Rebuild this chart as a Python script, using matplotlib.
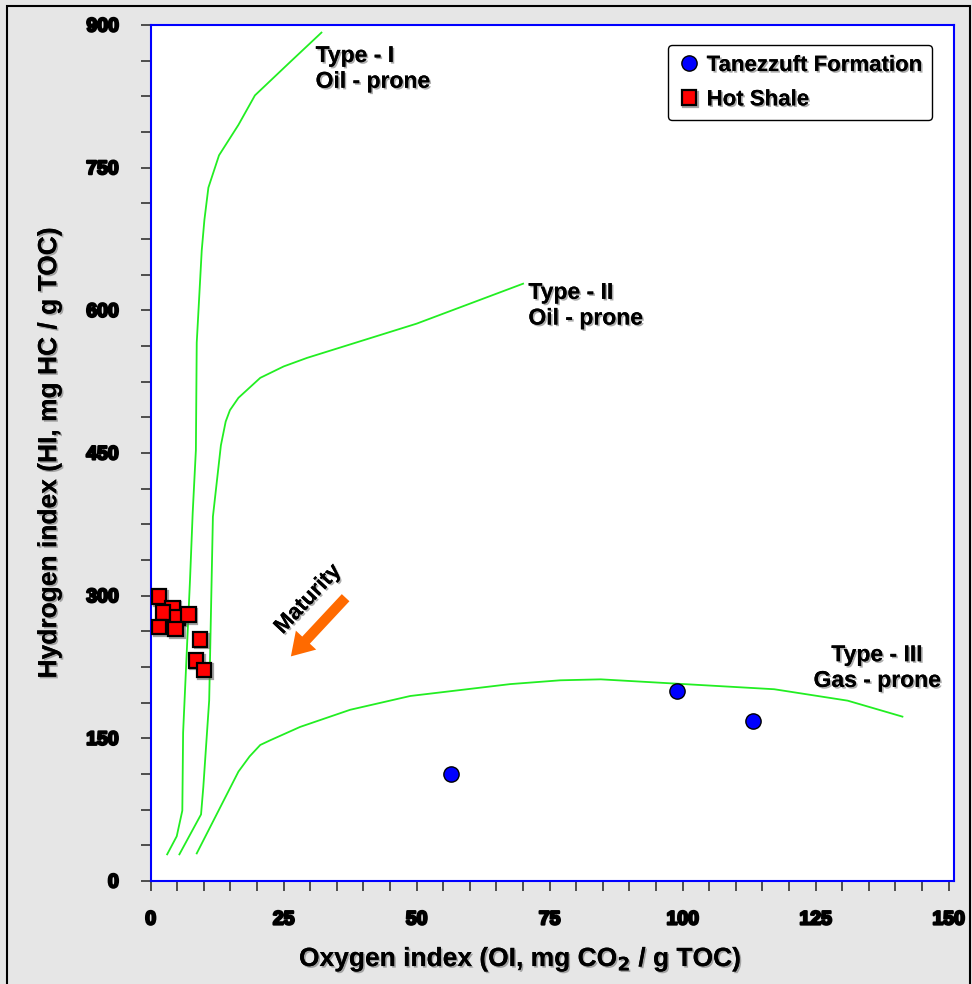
import numpy as np
import matplotlib
matplotlib.use("Agg")
import matplotlib.pyplot as plt
import matplotlib.patheffects as pe
from matplotlib.patches import Rectangle

plt.rcParams['font.family'] = ['Liberation Sans', 'DejaVu Sans']

# Kerogen type boundary curves (OI, HI)
type1_oi = [3.1, 4.9, 5.95, 6.1, 7.4, 7.9, 8.5, 8.66, 9.6, 10.1, 10.85, 12.85, 16.5, 19.6, 26.2, 32.1]
type1_hi = [28, 47, 74, 156, 317, 387, 453, 566, 663, 695, 729, 763, 795, 826, 861, 892]

type2_oi = [5.4, 9.47, 9.9, 11.0, 11.7, 13.2, 14.1, 14.9, 16.5, 20.6, 25.0, 29.4, 50.0, 70.0]
type2_hi = [28, 70, 99, 190, 383, 458, 483, 495, 508, 529, 541, 550, 586, 628]

type3_oi = [8.66, 16.5, 18.6, 20.6, 22.5, 28.1, 37.5, 48.8, 67.6, 77.0, 84.6, 117.2, 131.0, 141.3]
type3_hi = [29, 115, 131, 143, 148, 162, 180, 194.5, 207, 211, 212, 201.6, 189.6, 172.8]

# Samples
tanezzuft_oi = [56.5, 98.9, 113.2]
tanezzuft_hi = [112.5, 200, 168]

hotshale_oi = [1.6, 4.1, 2.3, 5.0, 7.1, 1.6, 4.7, 9.3, 8.5, 10.0]
hotshale_hi = [299, 287, 282, 277, 280, 267, 265, 254, 232, 222]

shadow = [pe.withSimplePatchShadow(offset=(1.2, -1.2), shadow_rgbFace='#777777', alpha=0.6), pe.Normal()]

fig = plt.figure(figsize=(9.72, 9.84), dpi=100, facecolor='#e6e6e6')
fig.patches.append(Rectangle((0.007, -0.01), 0.991, 1.004, transform=fig.transFigure,
                             fill=False, edgecolor='black', linewidth=1.5))
ax = fig.add_axes([0.155, 0.1047, 0.8265, 0.8699])
ax.set_facecolor('white')

green = '#22ee22'
ax.plot(type1_oi, type1_hi, color=green, lw=1.3)
ax.plot(type2_oi, type2_hi, color=green, lw=1.3)
ax.plot(type3_oi, type3_hi, color=green, lw=1.3)

ax.plot(tanezzuft_oi, tanezzuft_hi, 'o', color='#0000ff', markeredgecolor='black',
        markeredgewidth=1.0, markersize=11, label='Tanezzuft Formation', zorder=5)
ax.plot(hotshale_oi, hotshale_hi, 's', color='#ff0000', markeredgecolor='black',
        markeredgewidth=1.6, markersize=10.5, label='Hot Shale', zorder=5,
        path_effects=[pe.SimpleLineShadow(offset=(1.2, -1.2), shadow_color='#666666', alpha=0.6), pe.Normal()])

ax.set_xlim(0, 151)
ax.set_ylim(0, 900)
ax.set_xticks(np.arange(0, 151, 25))
ax.set_xticks(np.arange(0, 151, 5), minor=True)
ax.set_yticks(np.arange(0, 901, 150))
ax.set_yticks(np.arange(0, 901, 37.5), minor=True)

for s in ax.spines.values():
    s.set_color('#0000ff')
    s.set_linewidth(1.5)

ax.tick_params(which='both', direction='out', length=7, width=1.2, color='#333333')
ax.tick_params(axis='y', which='major', pad=16)
ax.tick_params(axis='x', which='major', pad=15)
for lab in ax.get_xticklabels() + ax.get_yticklabels():
    lab.set_fontsize(14)
    lab.set_fontweight('heavy')
    lab.set_path_effects([pe.withStroke(linewidth=1.6, foreground='black')])

ax.set_xlabel('Oxygen index (OI, mg CO$_\\mathbf{2}$ / g TOC)', fontsize=19, fontweight='bold',
              path_effects=shadow)
ax.xaxis.set_label_coords(0.46, -0.075)
ax.set_ylabel('Hydrogen index (HI, mg HC / g TOC)', fontsize=19, fontweight='bold',
              labelpad=18, path_effects=shadow)

lbl = dict(fontsize=16.5, fontweight='bold', path_effects=shadow, linespacing=1.15)
ax.text(31.0, 880, 'Type - I\nOil - prone', ha='left', va='top', **lbl)
ax.text(71.0, 631, 'Type - II\nOil - prone', ha='left', va='top', **lbl)
ax.text(136.5, 250, 'Type - III\nGas - prone', ha='center', va='top', multialignment='center', **lbl)

ax.annotate('', xy=(26.0, 234), xytext=(37.0, 300),
            arrowprops=dict(arrowstyle='simple,head_width=2.0,head_length=1.6,tail_width=0.75',
                            color='#ff6a00', lw=0))
ax.text(29.6, 296, 'Maturity', rotation=47, ha='center', va='center', fontsize=16,
        fontweight='bold', path_effects=shadow)

leg = ax.legend(loc='upper right', bbox_to_anchor=(0.9726, 0.9766), borderaxespad=0,
                fancybox=True, edgecolor='black', framealpha=1, handletextpad=0.3,
                handlelength=1.0, labelspacing=0.6, borderpad=0.45,
                prop={'size': 16, 'weight': 'bold'})
leg.get_frame().set_linewidth(1.0)
for t in leg.get_texts():
    t.set_path_effects(shadow)

fig.savefig('out.png', dpi=100, facecolor=fig.get_facecolor())
